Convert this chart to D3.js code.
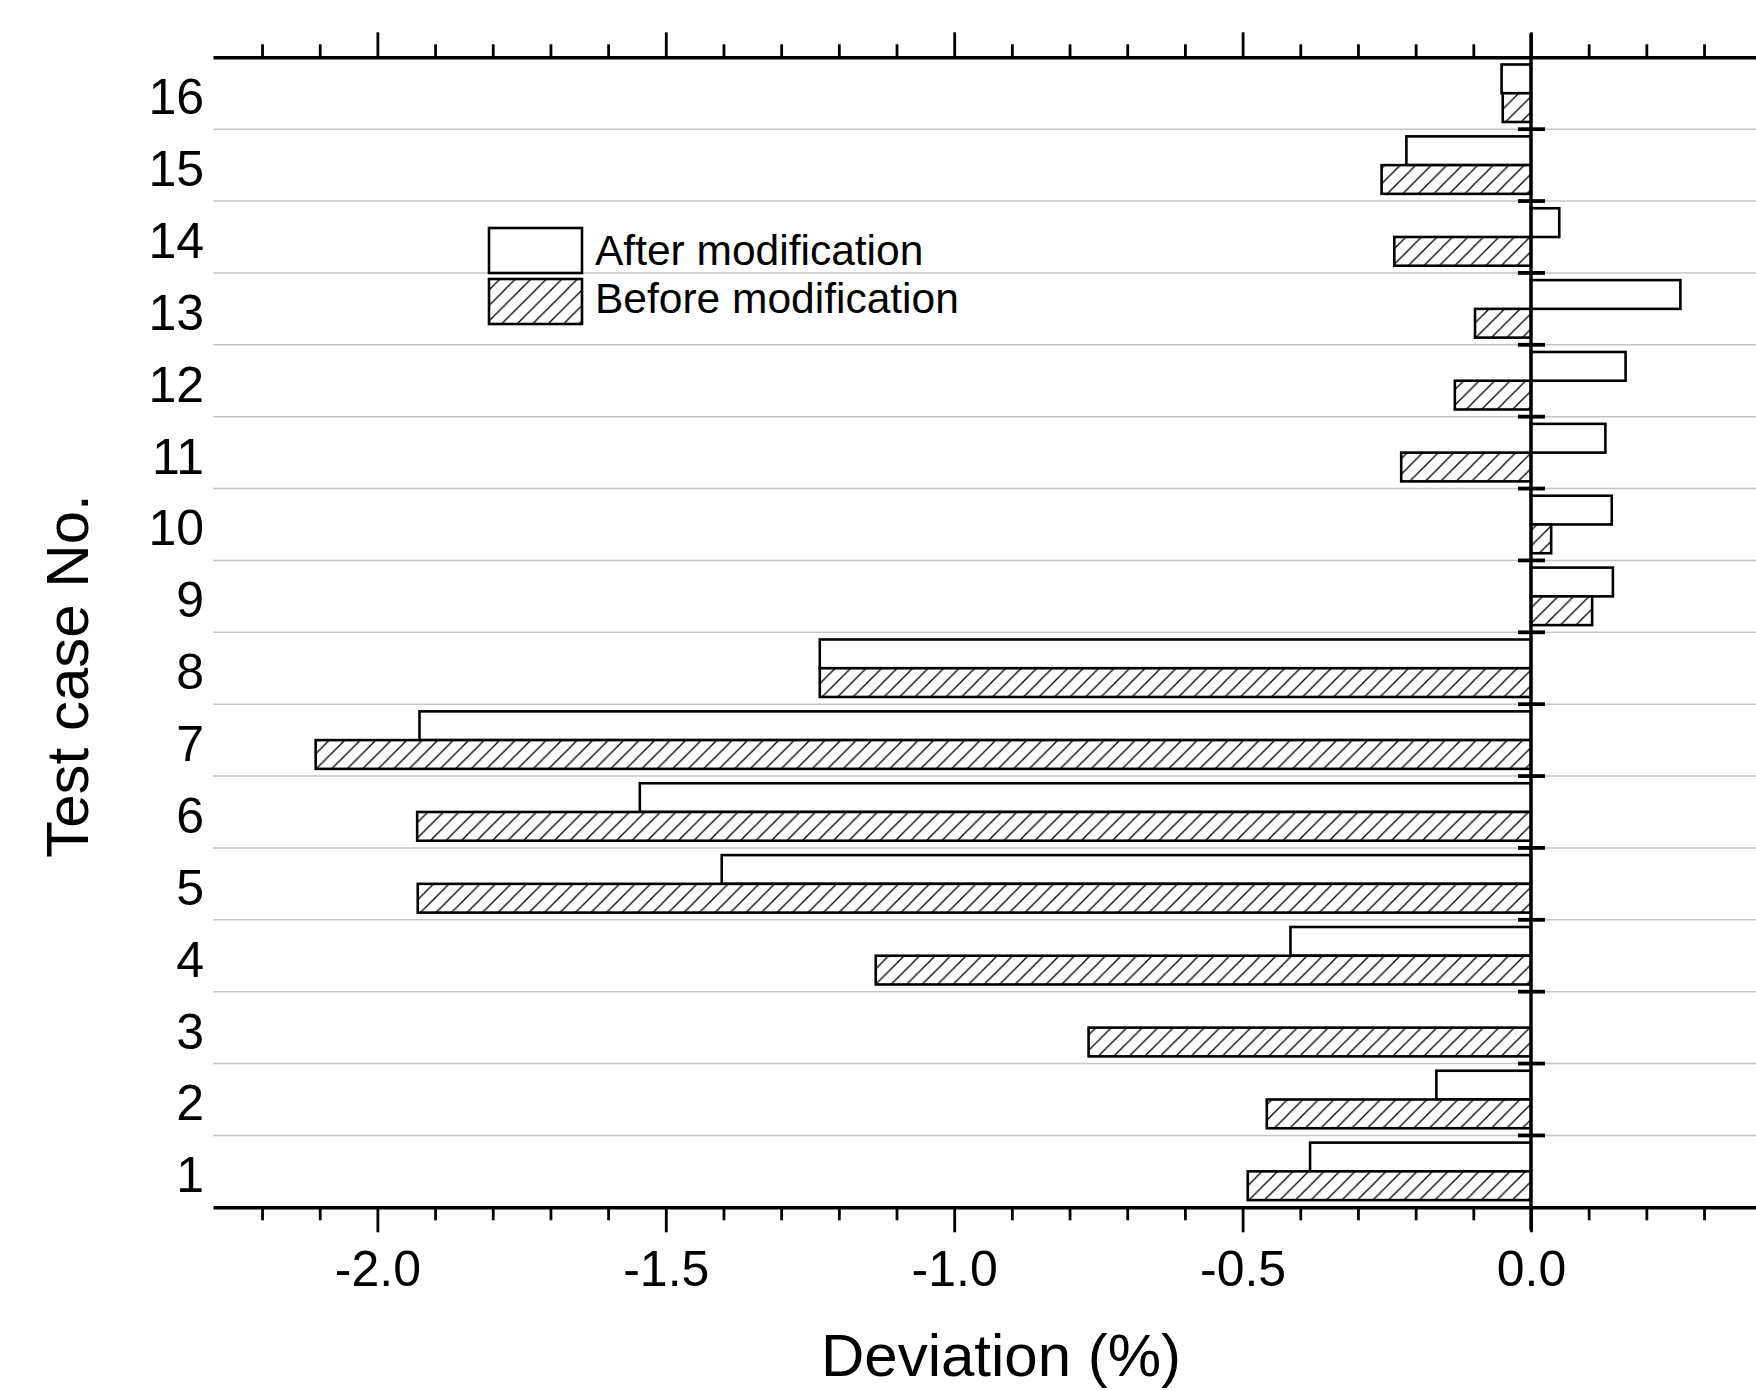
<!DOCTYPE html>
<html lang="en">
<head>
  <meta charset="UTF-8">
  <title>Deviation per test case</title>
  <script src="https://d3js.org/d3.v7.min.js"></script>
  <style>
    body { margin: 0; background: #fff; }
    svg { display: block; font-family: "Liberation Sans", Arial, sans-serif; }
    .grid { stroke: #c4c4c4; stroke-width: 1.4; }
    .bar { stroke: #000; stroke-width: 2.6; }
    .axis .domain { stroke: #000; stroke-width: 3.4; }
    .axis .tick line { stroke: #000; stroke-width: 2.8; }
    .axis .tick text { font-size: 50px; fill: #000; }
  </style>
</head>
<body>
  <div id="chart"></div>

  <script>
    // ------------------------ Data ------------------------

    const cases = [1, 2, 3, 4, 5, 6, 7, 8, 9, 10, 11, 12, 13, 14, 15, 16];
    const afterMod  = [-0.383, -0.164, 0.000, -0.417, -1.403, -1.545, -1.927, -1.233,
                        0.142,  0.140, 0.129,  0.164,  0.259,  0.049, -0.216, -0.051];
    const beforeMod = [-0.491, -0.458, -0.767, -1.136, -1.930, -1.931, -2.107, -1.233,
                        0.106,  0.035, -0.225, -0.132, -0.097, -0.237, -0.259, -0.049];
    const seriesNames = ["After modification", "Before modification"];
    const majorTicks = [-2.0, -1.5, -1.0, -0.5, 0.0];
    const minorTicks = d3.range(-22, 5).map(i => i / 10).filter(v => !majorTicks.some(m => Math.abs(m - v) < 1e-9));

    // ------------------------ Setup ------------------------

    const W = 1756, H = 1390;
    const plotLeft = 213, plotTop = 57.3, plotBottom = 1207.3;

    const svg = d3.select("#chart").append("svg")
      .attr("width", W)
      .attr("height", H);

    svg.append("rect").attr("width", W).attr("height", H).attr("fill", "#fff");

    // hatch pattern for the "before" series
    const defs = svg.append("defs");
    const hs = 15.5;
    defs.append("pattern")
      .attr("id", "hatch")
      .attr("patternUnits", "userSpaceOnUse")
      .attr("width", hs)
      .attr("height", hs)
      .call(p => {
        p.append("rect").attr("width", hs).attr("height", hs).attr("fill", "#fff");
        p.append("path")
          .attr("d", `M0,${hs} L${hs},0 M-4,4 L4,-4 M${hs - 4},${hs + 4} L${hs + 4},${hs - 4}`)
          .attr("stroke", "#000")
          .attr("stroke-width", 1.3);
      });

    const x = d3.scaleLinear()
      .domain([-2.285, 0.4])
      .range([plotLeft, plotLeft + 2.685 * 576.8]);

    const y = d3.scaleBand()
      .domain(cases.slice().reverse())
      .range([plotTop, plotBottom])
      .padding(0);

    const bw = y.bandwidth();
    const ySub = d3.scaleBand()
      .domain(seriesNames)
      .range([0.1 * bw, 0.9 * bw])
      .padding(0);

    // ------------------------ Gridlines ------------------------

    const boundaries = cases.slice(1).map(c => y(c) + bw);
    svg.append("g").selectAll("line")
      .data(boundaries)
      .join("line")
      .attr("class", "grid")
      .attr("x1", plotLeft)
      .attr("x2", W)
      .attr("y1", d => d)
      .attr("y2", d => d);

    // ------------------------ Bars ------------------------

    const rows = cases.flatMap((c, i) => [
      { c, s: seriesNames[0], v: afterMod[i] },
      { c, s: seriesNames[1], v: beforeMod[i] }
    ]);

    svg.append("g").selectAll("rect")
      .data(rows)
      .join("rect")
      .attr("class", "bar")
      .attr("x", d => Math.min(x(d.v), x(0)))
      .attr("width", d => Math.abs(x(d.v) - x(0)))
      .attr("y", d => y(d.c) + ySub(d.s))
      .attr("height", ySub.bandwidth())
      .attr("fill", d => d.s === seriesNames[0] ? "#fff" : "url(#hatch)");

    // ------------------------ Zero line ------------------------

    svg.append("line")
      .attr("x1", x(0)).attr("x2", x(0))
      .attr("y1", plotTop - 24).attr("y2", plotBottom + 23)
      .attr("stroke", "#000")
      .attr("stroke-width", 3.4);

    svg.append("g").selectAll("line")
      .data(boundaries)
      .join("line")
      .attr("x1", x(0) - 13)
      .attr("x2", x(0) + 14)
      .attr("y1", d => d)
      .attr("y2", d => d)
      .attr("stroke", "#000")
      .attr("stroke-width", 3.8);

    // ------------------------ Axes ------------------------

    const fmt = d => d.toFixed(1);

    // bottom: major with labels, minor without
    svg.append("g")
      .attr("class", "axis")
      .attr("transform", `translate(0,${plotBottom})`)
      .call(d3.axisBottom(x).tickValues(minorTicks).tickSize(13).tickSizeOuter(0).tickFormat(""))
      .call(g => g.select(".domain").remove());

    svg.append("g")
      .attr("class", "axis")
      .attr("transform", `translate(0,${plotBottom})`)
      .call(d3.axisBottom(x).tickValues(majorTicks).tickSize(25).tickSizeOuter(0).tickPadding(18).tickFormat(fmt));

    // top: ticks only
    svg.append("g")
      .attr("class", "axis")
      .attr("transform", `translate(0,${plotTop})`)
      .call(d3.axisTop(x).tickValues(minorTicks).tickSize(13).tickSizeOuter(0).tickFormat(""))
      .call(g => g.select(".domain").remove());

    svg.append("g")
      .attr("class", "axis")
      .attr("transform", `translate(0,${plotTop})`)
      .call(d3.axisTop(x).tickValues(majorTicks).tickSize(25).tickSizeOuter(0).tickFormat(""));

    // left: case numbers only
    svg.append("g")
      .attr("class", "axis")
      .attr("transform", `translate(${plotLeft},0)`)
      .call(d3.axisLeft(y).tickSize(0).tickPadding(9))
      .call(g => g.select(".domain").remove())
      .call(g => g.selectAll(".tick text").attr("dy", "0.42em"));

    // ------------------------ Titles ------------------------

    svg.append("text")
      .attr("x", 1001)
      .attr("y", 1376)
      .attr("text-anchor", "middle")
      .attr("font-size", 60)
      .text("Deviation (%)");

    svg.append("text")
      .attr("transform", "translate(88,676) rotate(-90)")
      .attr("text-anchor", "middle")
      .attr("font-size", 60)
      .text("Test case No.");

    // ------------------------ Legend ------------------------

    const legend = svg.append("g").attr("transform", "translate(489,228)");
    seriesNames.forEach((name, i) => {
      legend.append("rect")
        .attr("class", "bar")
        .attr("x", 0)
        .attr("y", i * 51)
        .attr("width", 93)
        .attr("height", 45)
        .attr("fill", i === 0 ? "#fff" : "url(#hatch)");
      legend.append("text")
        .attr("x", 106)
        .attr("y", i * 48 + 37)
        .attr("font-size", 42.5)
        .text(name);
    });
  </script>
</body>
</html>
